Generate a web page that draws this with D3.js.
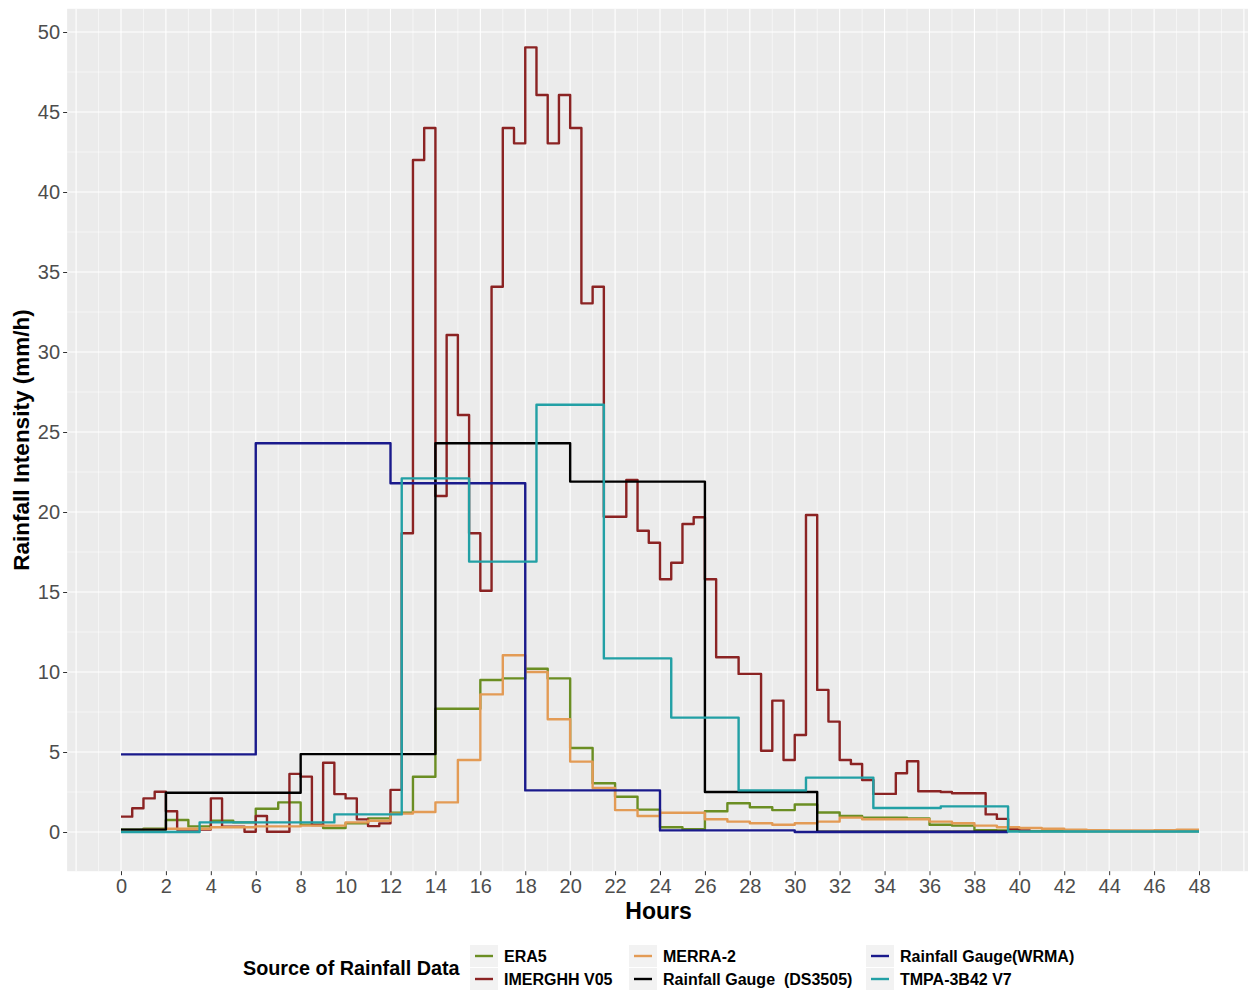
<!DOCTYPE html>
<html>
<head>
<meta charset="utf-8">
<script src="https://cdn.jsdelivr.net/npm/d3@7"></script>
<style>
  body { margin: 0; background: #fff; }
  text { font-family: "Liberation Sans", Arial, sans-serif; }
</style>
</head>
<body>
<svg width="1250" height="991"></svg>
<script>
// series names in ggplot factor order (also drawing order)
const seriesNames = ['ERA5', 'IMERGHH V05', 'MERRA-2', 'Rainfall Gauge\u00a0\u00a0(DS3505)', 'Rainfall Gauge(WRMA)', 'TMPA-3B42 V7'];
const seriesColors = ['#6b8e23', '#8b2323', '#e39b55', '#000000', '#1a1a8c', '#22a0a5'];

// ERA5, hourly from 0h
const era5Values = [0.15, 0.2, 0.75, 0.35, 0.7, 0.6, 1.45, 1.85, 0.45, 0.25, 0.55, 0.85,
  1.2, 3.45, 7.7, 7.7, 9.5, 9.6, 10.2, 9.6, 5.25, 3.05, 2.2, 1.4,
  0.3, 0.17, 1.3, 1.8, 1.55, 1.37, 1.72, 1.22, 1.0, 0.9, 0.9, 0.85,
  0.45, 0.4, 0.12, 0.1, 0.05, 0.05, 0.05, 0.05, 0.05, 0.05, 0.05, 0.05];

// MERRA-2, hourly from 0h
const merraValues = [0.1, 0.15, 0.2, 0.2, 0.3, 0.3, 0.35, 0.35, 0.4, 0.4, 0.6, 0.7,
  1.15, 1.25, 1.85, 4.5, 8.6, 11.05, 10.0, 7.05, 4.4, 2.75, 1.37, 1.0,
  1.2, 1.2, 0.8, 0.65, 0.55, 0.45, 0.55, 0.65, 0.9, 0.8, 0.8, 0.8,
  0.65, 0.55, 0.4, 0.3, 0.25, 0.2, 0.15, 0.12, 0.1, 0.1, 0.12, 0.15];

// IMERG half-hourly from 0h
const imergValues = [0.96, 1.48, 2.1, 2.52, 1.3, 0.15, 0.15, 0.15, 2.1, 0.33, 0.33, 0.02,
  1.0, 0.02, 0.02, 3.63, 3.46, 0.44, 4.33, 2.37, 2.1, 0.79, 0.37, 0.54,
  2.63, 18.67, 42.0, 44.0, 21.0, 31.06, 26.06, 18.67, 15.08, 34.08, 44.0, 43.04,
  49.04, 46.06, 43.04, 46.06, 44.0, 33.04, 34.08, 19.7, 19.7, 22.0, 18.83, 18.08,
  15.8, 16.83, 19.25, 19.67, 15.8, 10.92, 10.92, 9.88, 9.88, 5.08, 8.21, 4.5,
  6.06, 19.81, 8.88, 6.9, 4.5, 4.25, 3.25, 2.38, 2.38, 3.67, 4.42, 2.55,
  2.55, 2.5, 2.42, 2.42, 2.42, 1.1, 0.82, 0.2, 0.1];

// gauge DS3505
const ds3505Hours = [0, 2, 8, 14, 20, 26, 31];
const ds3505Values = [0.15, 2.45, 4.87, 24.3, 21.9, 2.5, 0.02];

// gauge WRMA
const wrmaHours = [0, 6, 12, 18, 24, 30];
const wrmaValues = [4.85, 24.3, 21.8, 2.6, 0.1, 0.0];

// TMPA 3-hourly
const tmpaHours = [0, 3.5, 9.5, 12.5, 15.5, 18.5, 21.5, 24.5, 27.5, 30.5, 33.5, 36.5, 39.5];
const tmpaValues = [0.0, 0.6, 1.1, 22.1, 16.9, 26.7, 10.85, 7.15, 2.6, 3.4, 1.5, 1.6, 0.03];

const seriesEnd = [48, 40.5, 48, 39.5, 39.5, 48];

const xTicks = d3.range(0, 49, 2);
const yTicks = [0, 5, 10, 15, 20, 25, 30, 35, 40, 45, 50];

function pts(hours, values, end) {
  let p = hours.map((h, i) => ({ t: h, v: values[i] }));
  p.push({ t: end, v: values[values.length - 1] });
  return p;
}

const seriesData = [
  pts(era5Values.map((_, i) => i), era5Values, seriesEnd[0]),
  pts(imergValues.map((_, i) => i * 0.5), imergValues, seriesEnd[1]),
  pts(merraValues.map((_, i) => i), merraValues, seriesEnd[2]),
  pts(ds3505Hours, ds3505Values, seriesEnd[3]),
  pts(wrmaHours, wrmaValues, seriesEnd[4]),
  pts(tmpaHours, tmpaValues, seriesEnd[5])
];

const svg = d3.select('svg');

let x = d3.scaleLinear().domain([0, 48]).range([121, 1199]);
let y = d3.scaleLinear().domain([0, 50]).range([832, 32]);

const panelL = x(-2.4), panelR = Math.min(1248, x(50.4));
const panelT = y(51.45), panelB = y(-2.45);

svg.append('rect')
  .attr('x', panelL).attr('y', panelT)
  .attr('width', panelR - panelL).attr('height', panelB - panelT)
  .attr('fill', '#ebebeb');

const grid = svg.append('g');
// minor + major vertical
d3.range(-2, 51).forEach(h => {
  grid.append('line')
    .attr('x1', x(h)).attr('x2', x(h))
    .attr('y1', panelT).attr('y2', panelB)
    .attr('stroke', '#fff')
    .attr('stroke-width', h % 2 === 0 ? 1.1 : 0.55);
});
d3.range(-2.5, 52, 2.5).forEach(v => {
  if (y(v) < panelT || y(v) > panelB) return;
  grid.append('line')
    .attr('x1', panelL).attr('x2', panelR)
    .attr('y1', y(v)).attr('y2', y(v))
    .attr('stroke', '#fff')
    .attr('stroke-width', v % 5 === 0 ? 1.1 : 0.55);
});

const line = d3.line()
  .x(d => x(d.t))
  .y(d => y(d.v))
  .curve(d3.curveStepAfter);

svg.append('g')
  .selectAll('path')
  .data(seriesData)
  .enter()
  .append('path')
  .attr('d', line)
  .attr('fill', 'none')
  .attr('stroke', (d, i) => seriesColors[i])
  .attr('stroke-width', 2.4)
  .attr('stroke-linejoin', 'round');

// axes
const xAxis = svg.append('g')
  .attr('transform', `translate(0,${panelB})`)
  .call(d3.axisBottom(x).tickValues(xTicks).tickSize(4).tickPadding(4));
const yAxis = svg.append('g')
  .attr('transform', `translate(${panelL},0)`)
  .call(d3.axisLeft(y).tickValues(yTicks).tickSize(4).tickPadding(3));

[xAxis, yAxis].forEach(a => {
  a.select('.domain').remove();
  a.selectAll('.tick line').attr('stroke', '#333').attr('stroke-width', 1);
  a.selectAll('.tick text')
    .attr('fill', '#4d4d4d')
    .style('font-size', '20px')
    .style('font-family', '"Liberation Sans", Arial, sans-serif');
});

svg.append('text')
  .attr('x', (panelL + 1250) / 2).attr('y', 919)
  .attr('text-anchor', 'middle')
  .style('font-size', '23px').style('font-weight', 'bold')
  .text('Hours');

svg.append('text')
  .attr('transform', `translate(29,${(panelT + panelB) / 2}) rotate(-90)`)
  .attr('text-anchor', 'middle')
  .style('font-size', '22.5px').style('font-weight', 'bold')
  .text('Rainfall Intensity (mm/h)');

// legend
const legend = svg.append('g');
legend.append('text')
  .attr('x', 243).attr('y', 975)
  .style('font-size', '19.8px').style('font-weight', 'bold')
  .text('Source of Rainfall Data');

const colX = [470, 629, 866];
const rowY = [956, 979];
seriesNames.forEach((name, i) => {
  let cx = colX[Math.floor(i / 2)];
  let cy = rowY[i % 2];
  legend.append('rect')
    .attr('x', cx).attr('y', cy - 11)
    .attr('width', 28).attr('height', 22)
    .attr('fill', '#f2f2f2');
  legend.append('line')
    .attr('x1', cx + 5).attr('x2', cx + 23)
    .attr('y1', cy).attr('y2', cy)
    .attr('stroke', seriesColors[i]).attr('stroke-width', 2.4);
  legend.append('text')
    .attr('x', cx + 34).attr('y', cy + 6)
    .style('font-size', '16px').style('font-weight', 'bold')
    .text(name);
});
</script>
</body>
</html>
